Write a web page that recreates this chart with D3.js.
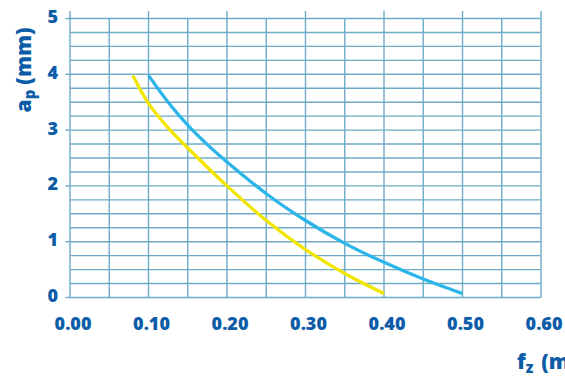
<!DOCTYPE html>
<html>
<head>
<meta charset="utf-8">
<script src="https://cdn.jsdelivr.net/npm/d3@7"></script>
<style>
  html, body { margin: 0; padding: 0; background: #fff; }
  svg { display: block; }
  text { font-family: "Open Sans", "Noto Sans", sans-serif; font-weight: 800; fill: #0d5ca8; }
</style>
</head>
<body>
<svg id="chart" width="565" height="378"></svg>
<script>
// ---- data ----
const xTickValues = [0, 0.1, 0.2, 0.3, 0.4, 0.5, 0.6];
const xTickLabels = ["0.00", "0.10", "0.20", "0.30", "0.40", "0.50", "0.60"];
const yTickValues = [0, 1, 2, 3, 4, 5];
const yTickLabels = ["0", "1", "2", "3", "4", "5"];

const blueFz = [0.10, 0.125, 0.15, 0.175, 0.20, 0.25, 0.30, 0.35, 0.40, 0.45, 0.50];
const blueAp = [3.98, 3.50, 3.09, 2.74, 2.43, 1.86, 1.38, 0.97, 0.63, 0.33, 0.07];

const yellowFz = [0.08, 0.10, 0.125, 0.15, 0.20, 0.25, 0.30, 0.35, 0.40];
const yellowAp = [3.98, 3.48, 3.04, 2.68, 2.00, 1.38, 0.86, 0.43, 0.07];

// ---- chart ----
const svg = d3.select("#chart");
const x = d3.scaleLinear().domain([0, 0.6]).range([70, 541]);
const y = d3.scaleLinear().domain([0, 5]).range([297.5, 18.5]);

const gridColor = "#6eabc8";
const grid = svg.append("g");

// horizontal grid lines every 0.25
const hLines = d3.range(0, 5.001, 0.25);
grid.selectAll("line.h").data(hLines).join("line")
  .attr("x1", x(0)).attr("x2", x(0.6))
  .attr("y1", d => y(d)).attr("y2", d => y(d))
  .attr("stroke", gridColor).attr("stroke-width", 1.4);

// vertical grid lines every 0.05, majors extend above the top
const vLines = d3.range(0, 0.6001, 0.05);
grid.selectAll("line.v").data(vLines).join("line")
  .attr("x1", d => x(d)).attr("x2", d => x(d))
  .attr("y1", (d, i) => i % 2 === 0 ? y(5) - 7.5 : y(5))
  .attr("y2", y(0))
  .attr("stroke", gridColor).attr("stroke-width", 1.4);

// y tick stubs
grid.selectAll("line.yt").data(yTickValues).join("line")
  .attr("x1", x(0) - 4.5).attr("x2", x(0))
  .attr("y1", d => y(d)).attr("y2", d => y(d))
  .attr("stroke", gridColor).attr("stroke-width", 1.4);

// tick labels
svg.append("g").selectAll("text").data(xTickValues).join("text")
  .attr("x", d => x(d) + 3).attr("y", 330)
  .attr("text-anchor", "middle").attr("font-size", 18)
  .text((d, i) => xTickLabels[i]);

svg.append("g").selectAll("text").data(yTickValues).join("text")
  .attr("x", 58).attr("y", d => y(d) + 4.5)
  .attr("text-anchor", "end").attr("font-size", 18)
  .text((d, i) => yTickLabels[i]);

// curves
const line = d3.line().curve(d3.curveCatmullRom.alpha(0.5))
  .x(d => x(d[0])).y(d => y(d[1]));

svg.append("path")
  .datum(yellowFz.map((v, i) => [v, yellowAp[i]]))
  .attr("d", line).attr("fill", "none")
  .attr("stroke", "#f2e500").attr("stroke-width", 3.3);

svg.append("path")
  .datum(blueFz.map((v, i) => [v, blueAp[i]]))
  .attr("d", line).attr("fill", "none")
  .attr("stroke", "#2bb5e8").attr("stroke-width", 3.3);

// axis titles
const yt = svg.append("text")
  .attr("transform", "translate(31,70) rotate(-90)")
  .attr("text-anchor", "middle").attr("font-size", 21);
yt.append("tspan").text("a");
yt.append("tspan").attr("font-size", 15).attr("dy", 4).text("p");
yt.append("tspan").attr("dy", -4).attr("dx", 5).text("(mm)");

const xt = svg.append("text")
  .attr("x", 517).attr("y", 369).attr("font-size", 21);
xt.append("tspan").text("f");
xt.append("tspan").attr("font-size", 15).attr("dy", 4).text("z");
xt.append("tspan").attr("dy", -4).attr("dx", 8).text("(mm)");
</script>
</body>
</html>
